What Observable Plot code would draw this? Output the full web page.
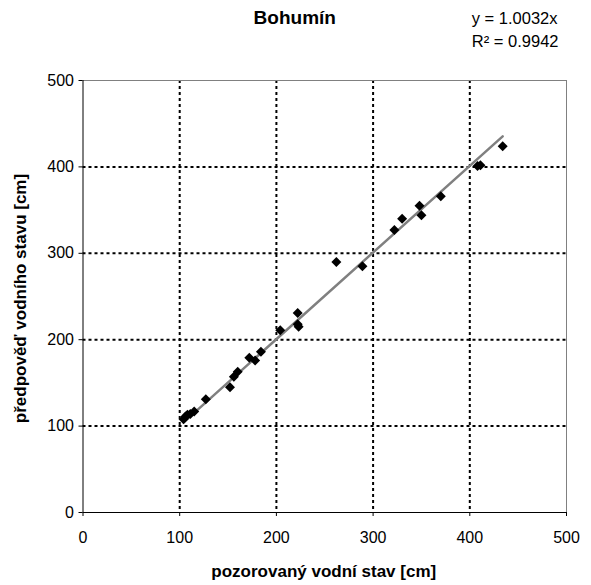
<!DOCTYPE html>
<html>
<head>
<meta charset="utf-8">
<script src="https://cdn.jsdelivr.net/npm/d3@7"></script>
<script src="https://cdn.jsdelivr.net/npm/@observablehq/plot@0.6"></script>
<style>
  body { margin: 0; background: #fff; }
  svg { font-family: "Liberation Sans", Arial, sans-serif; }
</style>
</head>
<body>
<div id="chart"></div>
<script>
const observed = [104,106,108,111,115,127,152,156,160,172,178,184,204,222,223,222,262,289,322,330,348,350,370,408,411,434];
const predicted = [108,111,113,114,117,131,145,157,163,179,176,186,211,218,215,231,290,285,327,340,355,344,366,401,402,424];
const slope = 1.0032;
const rSquared = "0.9942";
const trendRange = [104, 434];
const ticks = [0, 100, 200, 300, 400, 500];
const gridTicks = [100, 200, 300, 400];

const points = observed.map((x, i) => ({x, y: predicted[i]}));
const trend = trendRange.map(x => ({x, y: slope * x}));

const fontFamily = '"Liberation Sans", Arial, sans-serif';

const chart = Plot.plot({
  width: 591,
  height: 585,
  marginLeft: 82.5,
  marginRight: 25,
  marginTop: 80,
  marginBottom: 73,
  style: {fontFamily, fontSize: "16px", background: "white", overflow: "visible"},
  x: {domain: [0, 500]},
  y: {domain: [0, 500]},
  marks: [
    Plot.gridX(gridTicks, {stroke: "black", strokeOpacity: 1, strokeWidth: 2, strokeDasharray: "3,3"}),
    Plot.gridY(gridTicks, {stroke: "black", strokeOpacity: 1, strokeWidth: 2, strokeDasharray: "3,3"}),
    Plot.ruleY([500], {stroke: "#808080", strokeWidth: 1}),
    Plot.ruleX([500], {stroke: "#808080", strokeWidth: 1}),
    Plot.ruleX([0], {stroke: "black", strokeWidth: 1}),
    Plot.ruleY([0], {stroke: "black", strokeWidth: 1}),
    Plot.axisX(ticks, {tickSize: 4, tickPadding: 15, fontSize: 16, fill: "black", label: null}),
    Plot.axisY(ticks, {tickSize: 4, tickPadding: 5, fontSize: 16, fill: "black", label: null}),
    Plot.line(trend, {x: "x", y: "y", stroke: "#808080", strokeWidth: 2.5}),
    Plot.dot(points, {x: "x", y: "y", symbol: "diamond2", r: 4.5, fill: "black", stroke: "none"}),
    Plot.text(["pozorovaný vodní stav [cm]"], {frameAnchor: "bottom", lineAnchor: "middle", textAnchor: "middle", dx: -1, dy: 59, fontWeight: "bold", fontSize: 17, fill: "black"}),
    Plot.text(["předpověď vodního stavu [cm]"], {frameAnchor: "left", lineAnchor: "middle", textAnchor: "middle", dx: -62, dy: 2, rotate: -90, fontWeight: "bold", fontSize: 17, fill: "black"}),
    Plot.text(["Bohumín"], {frameAnchor: "top", lineAnchor: "middle", textAnchor: "middle", dx: -30, dy: -62.5, fontWeight: "bold", fontSize: 19, fill: "black"}),
    Plot.text([`y = ${slope.toFixed(4)}x`], {frameAnchor: "top-right", lineAnchor: "middle", dx: -9, dy: -62, textAnchor: "end", fontSize: 16.5, fill: "black"}),
    Plot.text([`R\u00B2 = ${rSquared}`], {frameAnchor: "top-right", lineAnchor: "middle", dx: -8, dy: -38.5, textAnchor: "end", fontSize: 16.5, fill: "black"})
  ]
});
document.getElementById("chart").appendChild(chart);
</script>
</body>
</html>
